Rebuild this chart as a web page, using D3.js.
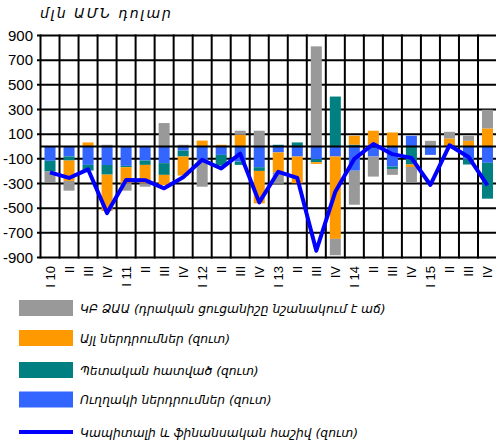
<!DOCTYPE html>
<html>
<head>
<meta charset="utf-8">
<script src="https://cdn.jsdelivr.net/npm/d3@7/dist/d3.min.js"></script>
<style>
  html, body { margin: 0; padding: 0; background: #fff; }
  svg { display: block; }
  .arm { font-family: "DejaVu Sans", "Noto Sans", sans-serif; font-style: italic; }
  .num { font-family: "Liberation Sans", Arial, sans-serif; }
</style>
</head>
<body>
<svg id="chart" width="496" height="443"></svg>
<script>
// Quarter labels, 2010 Q1 – 2015 Q4
const tickLabels = ["I 10","II","III","IV","I 11","II","III","IV","I 12","II","III","IV",
                    "I 13","II","III","IV","I 14","II","III","IV","I 15","II","III","IV"];

// Financial account components, mln USD (net)
const directInv = [-116, -81, -149, -150, -157, -114, -135, -33, -105, -68, -122, -168,
                   -48, -81, -103, -81, -196, -81, -163, 87, -68, 0, -105, -132];
const govSector = [-87, -33, -46, -78, -11, -35, -95, -48, 0, -87, -27, -30,
                   14, 33, -24, 405, 15, 0, -19, -146, 0, 0, -41, -291];
const otherInv  = [0, -165, 33, -295, -130, -149, -82, -155, 48, 14, 95, -263,
                   -160, -217, -14, -668, 72, 128, 114, -20, 0, 65, 46, 147];
const cbReserve = [-87, -79, 0, 14, -60, -28, 190, 14, -221, 0, 33, 128,
                   -94, 0, 812, -133, -276, -163, -48, -124, 46, 54, 41, 151];
const capFinAcc = [-210, -255, -185, -540, -271, -273, -339, -250, -108, -178, -58, -453,
                   -205, -255, -845, -366, -100, 20, -62, -92, -312, 10, -85, -315];

const yTicks = [900, 700, 500, 300, 100, -100, -300, -500, -700, -900];

const seriesKeys   = ["direct", "gov", "other", "cb"];
const seriesColors = { direct: "#3366FF", gov: "#008080", other: "#FF9900", cb: "#999999" };
const lineColor = "#0000FF";

const legendItems = [
  { type: "rect", color: seriesColors.cb,     label: "ԿԲ ՁԱԱ (դրական ցուցանիշը նշանակում է աճ)" },
  { type: "rect", color: seriesColors.other,  label: "Այլ ներդրումներ (զուտ)" },
  { type: "rect", color: seriesColors.gov,    label: "Պետական հատված (զուտ)" },
  { type: "rect", color: seriesColors.direct, label: "Ուղղակի ներդրումներ (զուտ)" },
  { type: "line", color: lineColor,           label: "Կապիտալի և ֆինանսական հաշիվ (զուտ)" }
];

const rows = tickLabels.map((t, i) => ({
  i, direct: directInv[i], gov: govSector[i], other: otherInv[i], cb: cbReserve[i], total: capFinAcc[i]
}));

const svg = d3.select("#chart");
const plot = { left: 40.5, right: 497, top: 35.5, bottom: 257.5 };

const x = d3.scaleBand()
  .domain(d3.range(tickLabels.length))
  .range([plot.left, plot.right])
  .paddingInner(0.42)
  .paddingOuter(0.21);
const step = x.step();
const xEdge = i => plot.left + i * step;   // category boundaries

const y = d3.scaleLinear().domain([-900, 900]).range([plot.bottom, plot.top]);

// Title / unit
svg.append("text").attr("class", "arm")
  .attr("x", 40).attr("y", 18)
  .attr("font-size", 14).attr("letter-spacing", 2).attr("fill", "#000")
  .text("մլն ԱՄՆ դոլար");

// Horizontal gridlines with short outward ticks
const grid = svg.append("g");
grid.selectAll("line.h").data(yTicks).join("line")
  .attr("x1", plot.left - 3.5).attr("x2", plot.right)
  .attr("y1", d => y(d)).attr("y2", d => y(d))
  .attr("stroke", "#000").attr("stroke-width", 2);

// Vertical gridlines at category boundaries
grid.selectAll("line.v").data(d3.range(tickLabels.length + 1)).join("line")
  .attr("x1", d => xEdge(d)).attr("x2", d => xEdge(d))
  .attr("y1", plot.top - 1).attr("y2", plot.bottom + 1)
  .attr("stroke", "#000").attr("stroke-width", 2);

// Y axis labels
svg.append("g").selectAll("text").data(yTicks).join("text")
  .attr("class", "num")
  .attr("x", 33).attr("y", d => y(d)).attr("dy", "0.35em")
  .attr("text-anchor", "end").attr("font-size", 15).attr("fill", "#000")
  .text(d => d);

// Stacked bars (diverging around zero)
const stacked = d3.stack().keys(seriesKeys).offset(d3.stackOffsetDiverging)(rows);
svg.append("g").selectAll("g").data(stacked).join("g")
  .attr("fill", s => seriesColors[s.key])
  .selectAll("rect").data(s => s).join("rect")
  .attr("x", d => x(d.data.i))
  .attr("width", x.bandwidth())
  .attr("y", d => y(Math.max(d[0], d[1])))
  .attr("height", d => Math.abs(y(d[0]) - y(d[1])));

// Zero axis line
svg.append("line")
  .attr("x1", plot.left).attr("x2", plot.right)
  .attr("y1", y(0)).attr("y2", y(0))
  .attr("stroke", "#000").attr("stroke-width", 2);

// Capital and financial account line
const line = d3.line()
  .x(d => x(d.i) + x.bandwidth() / 2)
  .y(d => y(d.total));
svg.append("path").datum(rows)
  .attr("d", line)
  .attr("fill", "none").attr("stroke", lineColor)
  .attr("stroke-width", 4).attr("stroke-linejoin", "round");

// Rotated quarter labels
svg.append("g").selectAll("text").data(rows).join("text")
  .attr("class", "num")
  .attr("transform", d => `translate(${x(d.i) + x.bandwidth() / 2},266) rotate(-90)`)
  .attr("dy", "0.35em")
  .attr("text-anchor", "end").attr("font-size", 13).attr("fill", "#000")
  .text(d => tickLabels[d.i]);

// Legend
const legendY = [308, 338, 370, 399.5, 432];
const lg = svg.append("g").selectAll("g").data(legendItems).join("g")
  .attr("transform", (d, i) => `translate(0,${legendY[i]})`);
lg.each(function(d) {
  const g = d3.select(this);
  if (d.type === "rect") {
    g.append("rect").attr("x", 19).attr("y", -8).attr("width", 54).attr("height", 16).attr("fill", d.color);
  } else {
    g.append("line").attr("x1", 19).attr("x2", 73).attr("y1", 0).attr("y2", 0)
      .attr("stroke", d.color).attr("stroke-width", 4);
  }
  g.append("text").attr("class", "arm")
    .attr("x", 80).attr("y", 4.5)
    .attr("font-size", 12.3).attr("fill", "#000")
    .text(d.label);
});
</script>
</body>
</html>
